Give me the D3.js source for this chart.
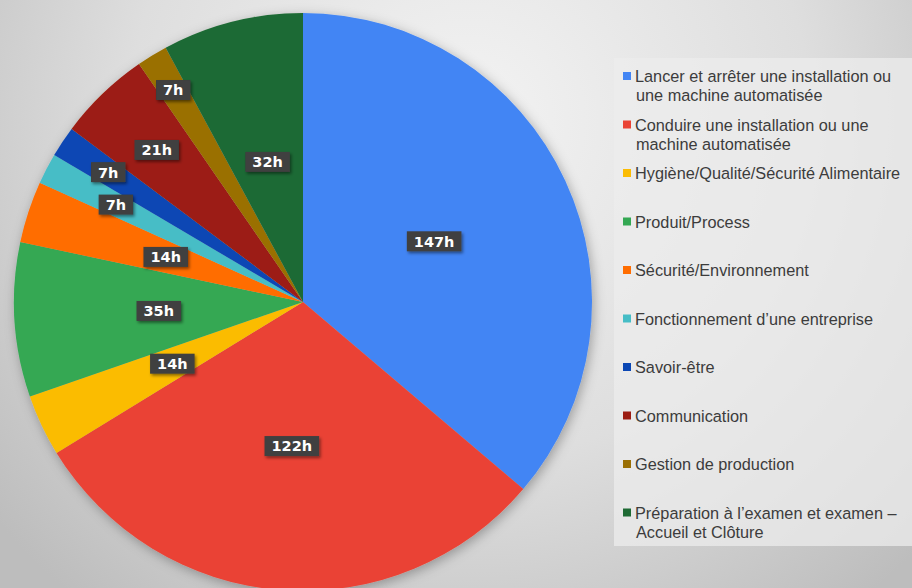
<!DOCTYPE html>
<html lang="fr">
<head>
  <meta charset="UTF-8">
  <title>Répartition des heures</title>
  <style>
    body { margin: 0; }
    svg { display: block; }
  </style>
</head>
<body>

  <svg id="svg" width="912" height="588"></svg>

  <script src="https://d3js.org/d3.v7.min.js"></script>
  <script>
    // modules of the training, in drawing order (clockwise from 12 o'clock)
    const categories = [
      ['Lancer et arrêter une installation ou', 'une machine automatisée'],
      ['Conduire une installation ou une', 'machine automatisée'],
      ['Hygiène/Qualité/Sécurité Alimentaire'],
      ['Produit/Process'],
      ['Sécurité/Environnement'],
      ['Fonctionnement d\u2019une entreprise'],
      ['Savoir-être'],
      ['Communication'],
      ['Gestion de production'],
      ['Préparation à l\u2019examen et examen \u2013', 'Accueil et Clôture']
    ]
    const hours = [147, 122, 14, 35, 14, 7, 7, 21, 7, 32]
    const colors = ['#4285f4', '#ea4335', '#fbbc04', '#34a853', '#ff6d01',
                    '#46bdc6', '#0b47b4', '#9c1c12', '#9a6f04', '#1e6a34']

    // small slices get their label pushed outwards (best fit)
    const labelRadius = [0.5, 0.5, 0.5, 0.5, 0.5, 0.73, 0.81, 0.73, 0.86, 0.5]

    const svg = d3.select('#svg')
    const defs = svg.append('defs')

    const bg = defs.append('radialGradient')
      .attr('id', 'bg')
      .attr('gradientUnits', 'userSpaceOnUse')
      .attr('cx', 470).attr('cy', 120).attr('r', 620)
    bg.append('stop').attr('offset', '0%').attr('stop-color', '#f3f3f3')
    bg.append('stop').attr('offset', '55%').attr('stop-color', '#dedede')
    bg.append('stop').attr('offset', '100%').attr('stop-color', '#bdbdbd')

    const shadow = defs.append('filter').attr('id', 'shadow')
      .attr('x', '-20%').attr('y', '-20%').attr('width', '140%').attr('height', '140%')
    shadow.append('feDropShadow')
      .attr('dx', 2).attr('dy', 3).attr('stdDeviation', 6)
      .attr('flood-color', '#000').attr('flood-opacity', 0.3)

    const boxShadow = defs.append('filter').attr('id', 'boxShadow')
      .attr('x', '-30%').attr('y', '-30%').attr('width', '160%').attr('height', '160%')
    boxShadow.append('feDropShadow')
      .attr('dx', 1.5).attr('dy', 2).attr('stdDeviation', 1.5)
      .attr('flood-color', '#000').attr('flood-opacity', 0.45)

    svg.append('rect')
      .attr('width', 912).attr('height', 588)
      .attr('fill', 'url(#bg)')

    // pie
    const cx = 303, cy = 302, r = 289
    const pie = d3.pie().sort(null).value(d => d)
    const arcs = pie(hours)
    const arc = d3.arc().innerRadius(0).outerRadius(r)

    const g = svg.append('g').attr('transform', `translate(${cx},${cy})`)

    g.append('g')
      .attr('filter', 'url(#shadow)')
      .selectAll('path')
      .data(arcs)
      .enter()
      .append('path')
      .attr('d', arc)
      .attr('fill', (d, i) => colors[i])

    const labels = g.selectAll('g.lbl')
      .data(arcs)
      .enter()
      .append('g')
      .attr('class', 'lbl')
      .attr('transform', (d, i) => {
        const a = (d.startAngle + d.endAngle) / 2
        const rr = r * labelRadius[i]
        return `translate(${Math.sin(a) * rr},${-Math.cos(a) * rr})`
      })

    labels.append('text')
      .text(d => d.data + 'h')
      .attr('text-anchor', 'middle')
      .attr('dy', '0.37em')
      .style('font-family', 'DejaVu Sans')
      .style('font-weight', 'bold')
      .style('font-size', '14.5px')
      .attr('fill', '#fff')
      .each(function () {
        const b = this.getBBox()
        d3.select(this.parentNode).insert('rect', 'text')
          .attr('x', b.x - 7).attr('y', -10)
          .attr('width', b.width + 14).attr('height', 20)
          .attr('fill', '#3f3f3f')
          .attr('filter', 'url(#boxShadow)')
      })

    // legend
    const legend = svg.append('g')
    legend.append('rect')
      .attr('x', 614).attr('y', 58)
      .attr('width', 298).attr('height', 488)
      .attr('fill', '#ececec')
      .attr('opacity', 0.75)

    const items = legend.selectAll('g.item')
      .data(categories)
      .enter()
      .append('g')
      .attr('class', 'item')
      .attr('transform', (d, i) => `translate(623,${76 + i * 48.5})`)

    items.append('rect')
      .attr('x', 0).attr('y', -4)
      .attr('width', 8).attr('height', 8)
      .attr('fill', (d, i) => colors[i])

    items.append('text')
      .attr('x', 12)
      .attr('y', 6)
      .style('font-family', 'Liberation Sans, Arial, sans-serif')
      .style('font-size', '16.3px')
      .attr('fill', '#3c3c3c')
      .selectAll('tspan')
      .data(d => d)
      .enter()
      .append('tspan')
      .attr('x', (d, i) => i === 0 ? 12 : 13)
      .attr('dy', (d, i) => i === 0 ? 0 : 19)
      .text(d => d)
  </script>
</body>
</html>
